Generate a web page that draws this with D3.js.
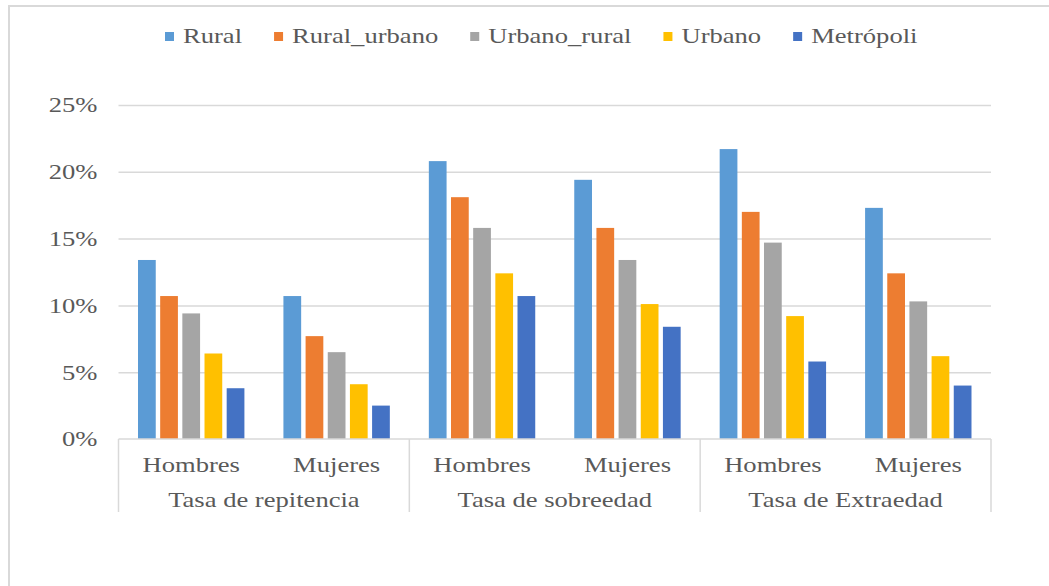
<!DOCTYPE html>
<meta charset="utf-8">
<script src="https://cdn.jsdelivr.net/npm/d3@7"></script>
<style>
body { margin: 0; background: #fff; }
#chart svg { display: block; }
</style>
<div id="chart"></div>
<script>
// data (percent)
var groups = ["Tasa de repitencia", "Tasa de sobreedad", "Tasa de Extraedad"];
var sexes = ["Hombres", "Mujeres"];
var series = ["Rural", "Rural_urbano", "Urbano_rural", "Urbano", "Metrópoli"];
var rural        = [13.4, 10.7, 20.8, 19.4, 21.7, 17.3];
var ruralUrbano  = [10.7,  7.7, 18.1, 15.8, 17.0, 12.4];
var urbanoRural  = [ 9.4,  6.5, 15.8, 13.4, 14.7, 10.3];
var urbano       = [ 6.4,  4.1, 12.4, 10.1,  9.2,  6.2];
var metropoli    = [ 3.8,  2.5, 10.7,  8.4,  5.8,  4.0];
var yTicks = [0, 5, 10, 15, 20, 25];

var colors = ["#5B9BD5", "#ED7D31", "#A5A5A5", "#FFC000", "#4472C4"];
var values = [rural, ruralUrbano, urbanoRural, urbano, metropoli];

var W = 1049, H = 586;
var plotL = 118.5, plotR = 991, plotT = 105, plotB = 439;
var textColor = "#595959", lineColor = "#d9d9d9";
var sx = 1.33; // the source text is stretched horizontally

// one row per (group, sex)
var cats = [];
groups.forEach(function(g) { sexes.forEach(function(s) { cats.push(g + "|" + s); }); });
var data = cats.map(function(c, i) {
  return { cat: c, vals: series.map(function(k, j) { return { key: k, value: values[j][i] }; }) };
});

var svg = d3.select("#chart").append("svg")
  .attr("width", W).attr("height", H)
  .style("font-family", "'Liberation Serif', 'Times New Roman', serif");

// outer frame
svg.append("path")
  .attr("d", "M9," + H + "V6H" + W)
  .attr("fill", "none").attr("stroke", lineColor).attr("stroke-width", 2);

var x = d3.scaleBand().domain(cats).range([plotL, plotR]).padding(0);
var xSub = d3.scaleBand().domain(series).range([0, x.bandwidth()])
  .paddingInner(0.2).paddingOuter(0.88);
var xGroup = d3.scaleBand().domain(groups).range([plotL, plotR]).padding(0);
var y = d3.scaleLinear().domain([0, 25]).range([plotB, plotT]);
var color = d3.scaleOrdinal().domain(series).range(colors);

// y axis with gridlines
var yAxis = svg.append("g")
  .attr("transform", "translate(" + plotL + ",0)")
  .call(d3.axisLeft(y).tickValues(yTicks).tickSize(-(plotR - plotL)).tickFormat(function(d) { return d + "%"; }));
yAxis.select(".domain").remove();
yAxis.selectAll(".tick line").attr("stroke", lineColor).attr("stroke-width", 1.5)
  .filter(function(d) { return d === 0; }).remove();
yAxis.selectAll(".tick text")
  .attr("x", 0).attr("dy", "0.34em")
  .attr("transform", "translate(-21,0) scale(" + sx + ",1)")
  .attr("fill", textColor).attr("font-size", 20)
  .attr("font-family", "'Liberation Serif', 'Times New Roman', serif");

// bars
svg.append("g").selectAll("g")
  .data(data).enter().append("g")
    .attr("transform", function(d) { return "translate(" + x(d.cat) + ",0)"; })
  .selectAll("rect")
  .data(function(d) { return d.vals; })
  .enter().append("rect")
    .attr("x", function(d) { return xSub(d.key); })
    .attr("y", function(d) { return y(d.value); })
    .attr("width", xSub.bandwidth())
    .attr("height", function(d) { return y(0) - y(d.value); })
    .attr("fill", function(d) { return color(d.key); });

// x axis line + group separators
svg.append("line")
  .attr("x1", plotL).attr("x2", plotR).attr("y1", plotB).attr("y2", plotB)
  .attr("stroke", lineColor).attr("stroke-width", 1.5);
var seps = groups.map(function(g) { return xGroup(g); }).concat([plotR]);
svg.append("g").selectAll("line")
  .data(seps).enter().append("line")
    .attr("x1", function(d) { return d; }).attr("x2", function(d) { return d; })
    .attr("y1", plotB).attr("y2", 512)
    .attr("stroke", lineColor).attr("stroke-width", 1.5);

// sub labels (Hombres / Mujeres)
svg.append("g").selectAll("text")
  .data(cats).enter().append("text")
    .attr("transform", function(d) { return "translate(" + (x(d) + x.bandwidth() / 2) + ",472) scale(" + sx + ",1)"; })
    .attr("text-anchor", "middle").attr("font-size", 20).attr("fill", textColor)
    .text(function(d) { return d.split("|")[1]; });

// group labels
svg.append("g").selectAll("text")
  .data(groups).enter().append("text")
    .attr("transform", function(d) { return "translate(" + (xGroup(d) + xGroup.bandwidth() / 2) + ",507) scale(" + sx + ",1)"; })
    .attr("text-anchor", "middle").attr("font-size", 20).attr("fill", textColor)
    .text(function(d) { return d; });

// legend
var legend = svg.append("g").attr("transform", "translate(165,0)");
var lx = 0;
series.forEach(function(k) {
  var item = legend.append("g").attr("transform", "translate(" + lx + ",0)");
  item.append("rect").attr("x", 0).attr("y", 32).attr("width", 9).attr("height", 9)
    .attr("fill", color(k));
  var t = item.append("text")
    .attr("transform", "translate(18,43) scale(" + sx + ",1)")
    .attr("font-size", 20).attr("fill", textColor)
    .text(k);
  lx += 18 + t.node().getComputedTextLength() * sx + 32;
});
</script>
